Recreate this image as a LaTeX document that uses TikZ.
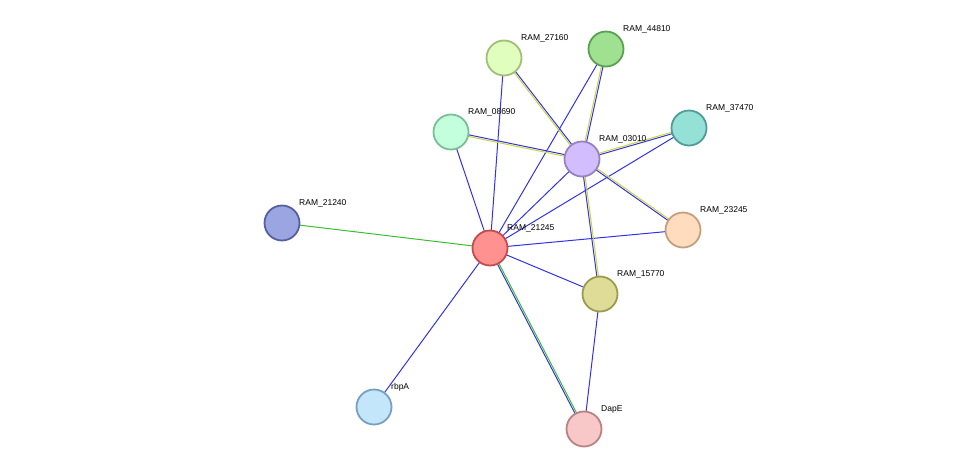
\documentclass[tikz,border=0pt]{standalone}
\usepackage{fontspec}
\setmainfont{Liberation Sans}
\usetikzlibrary{positioning, calc}

\tikzset{
  prot/.style={circle, minimum size=35pt, inner sep=0pt, line width=1.8pt},
  plab/.style={font=\fontsize{8.5}{10}\selectfont, inner sep=0pt, anchor=south west},
  blueedge/.style={draw={rgb,255:red,50;green,50;blue,230}, line width=1pt},
  yedge/.style={draw={rgb,255:red,200;green,215;blue,60}, line width=1pt},
  gedge/.style={draw={rgb,255:red,60;green,190;blue,50}, line width=1pt}
}
% single and paired connectors
\newcommand{\oneedge}[3]{\draw[#3] (#1) -- (#2);}
\newcommand{\twoedge}[3]{%
  \draw[blueedge] ($(#1)!0.8pt!-90:(#2)$) -- ($(#2)!0.8pt!90:(#1)$);
  \draw[#3] ($(#1)!0.8pt!90:(#2)$) -- ($(#2)!0.8pt!-90:(#1)$);}

\begin{document}
\begin{tikzpicture}[x=1pt,y=-1pt]
\useasboundingbox (0,0) rectangle (976,475);

\coordinate (c27160) at (504,58);
\coordinate (c44810) at (606,49);
\coordinate (c08690) at (451,132);
\coordinate (c37470) at (689,128);
\coordinate (c03010) at (582,159);
\coordinate (c21240) at (282,223);
\coordinate (c21245) at (490,248);
\coordinate (c23245) at (683,230);
\coordinate (c15770) at (600,294);
\coordinate (crbpA) at (374,407);
\coordinate (cDapE) at (584,429);

% connectors
\foreach \t in {c27160,c44810,c08690,c03010,c37470,c23245,c15770,crbpA}
  \oneedge{c21245}{\t}{blueedge};
\oneedge{c21245}{c21240}{gedge}
\twoedge{c21245}{cDapE}{gedge}
\foreach \t in {c27160,c44810,c08690,c37470,c23245,c15770}
  \twoedge{c03010}{\t}{yedge};
\oneedge{c15770}{cDapE}{blueedge}

% proteins
\node[prot, fill={rgb,255:red,224;green,255;blue,190}, draw={rgb,255:red,160;green,190;blue,120}] (n27160) at (c27160) {};
\node[prot, fill={rgb,255:red,160;green,225;blue,145}, draw={rgb,255:red,90;green,160;blue,80}] (n44810) at (c44810) {};
\node[prot, fill={rgb,255:red,195;green,255;blue,220}, draw={rgb,255:red,120;green,190;blue,150}] (n08690) at (c08690) {};
\node[prot, fill={rgb,255:red,150;green,225;blue,215}, draw={rgb,255:red,80;green,155;blue,150}] (n37470) at (c37470) {};
\node[prot, fill={rgb,255:red,210;green,190;blue,255}, draw={rgb,255:red,150;green,130;blue,190}] (n03010) at (c03010) {};
\node[prot, fill={rgb,255:red,155;green,165;blue,225}, draw={rgb,255:red,85;green,95;blue,160}] (n21240) at (c21240) {};
\node[prot, fill={rgb,255:red,255;green,145;blue,145}, draw={rgb,255:red,195;green,75;blue,75}] (n21245) at (c21245) {};
\node[prot, fill={rgb,255:red,255;green,220;blue,190}, draw={rgb,255:red,195;green,160;blue,125}] (n23245) at (c23245) {};
\node[prot, fill={rgb,255:red,222;green,220;blue,150}, draw={rgb,255:red,155;green,155;blue,80}] (n15770) at (c15770) {};
\node[prot, fill={rgb,255:red,195;green,230;blue,250}, draw={rgb,255:red,120;green,160;blue,190}] (nrbpA) at (crbpA) {};
\node[prot, fill={rgb,255:red,248;green,200;blue,200}, draw={rgb,255:red,185;green,130;blue,130}] (nDapE) at (cDapE) {};

% labels
\foreach \n/\s in {27160/RAM\_27160,44810/RAM\_44810,08690/RAM\_08690,37470/RAM\_37470,03010/RAM\_03010,21240/RAM\_21240,21245/RAM\_21245,23245/RAM\_23245,15770/RAM\_15770,rbpA/rbpA,DapE/DapE}
  \node[plab] (l\n) at ($(c\n)+(17,-16)$) {\s};
\end{tikzpicture}
\end{document}
